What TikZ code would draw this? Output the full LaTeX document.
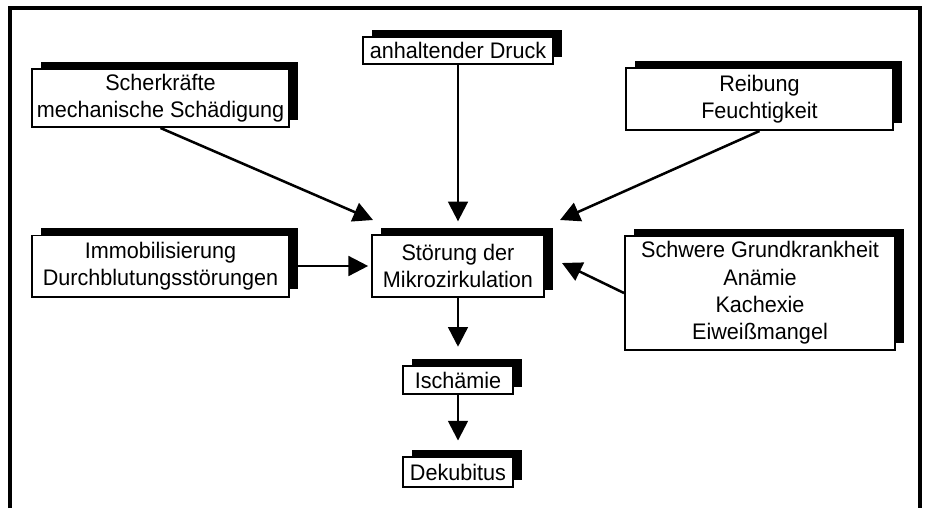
\documentclass[tikz,border=0pt]{standalone}
\usepackage{fontspec}
\setmainfont{Liberation Sans}[FakeStretch=0.96]
\usetikzlibrary{arrows.meta,shadows}

\begin{document}
\begin{tikzpicture}[x=0.025cm,y=-0.025cm,
  box/.style={draw=black, line width=1.4pt, fill=white, align=center, inner sep=0pt,
    font=\fontsize{16}{19.5}\selectfont,
    drop shadow={shadow xshift=6.2pt, shadow yshift=5.3pt, fill=black, opacity=1}},
  pfeil/.style={line width=1.8pt, -{Triangle[length=14pt,width=14pt]}}]
\useasboundingbox (0,0) rectangle (927,508);

% frame
  \draw[line width=2.2pt] (10,508) -- (10,8) -- (920,8) -- (920,508);

% boxes
  \node[box, minimum width=6.425cm, minimum height=1.45cm] (scher) at (160.5,98) {Scherkräfte\\mechanische Schädigung};
  \node[box, minimum width=4.75cm, minimum height=0.675cm] (druck) at (458,50.5) {anhaltender Druck};
  \node[box, minimum width=6.675cm, minimum height=1.55cm] (reib) at (759.5,99) {Reibung\\Feuchtigkeit};
  \node[box, minimum width=6.425cm, minimum height=1.525cm] (immo) at (160.5,266) {Immobilisierung\\Durchblutungsstörungen};
  \node[box, minimum width=4.3cm, minimum height=1.55cm] (stoer) at (458,266) {Störung der\\Mikrozirkulation};
  \node[box, minimum width=6.75cm, minimum height=2.85cm] (schwere) at (760,293) {Schwere Grundkrankheit\\Anämie\\Kachexie\\Eiweißmangel};
  \node[box, minimum width=2.75cm, minimum height=0.7cm] (isch) at (458,380) {Ischämie};
  \node[box, minimum width=2.75cm, minimum height=0.75cm] (deku) at (458,472) {Dekubitus};

% arrow ends
  \coordinate (tipA) at ([shift={(2,-14)}]stoer.north west);
  \coordinate (tipC) at ([shift={(15,-14)}]stoer.north east);
  \coordinate (tipD) at ([shift={(17,-3)}]stoer.east);

% arrows
  \draw[pfeil] (scher.south) -- (tipA);
  \draw[pfeil, shorten >=9pt] (druck.south) -- (druck.south |- stoer.north);
  \draw[pfeil] (reib.south) -- (tipC);
  \draw[pfeil, shorten >=2pt] (immo.east) -- (immo.east -| stoer.west);
  \draw[pfeil] (schwere.west) -- (tipD);
  \draw[pfeil, shorten >=13pt] (stoer.south) -- (isch.north);
  \draw[pfeil, shorten >=11pt] (isch.south) -- (deku.north);

\end{tikzpicture}
\end{document}
